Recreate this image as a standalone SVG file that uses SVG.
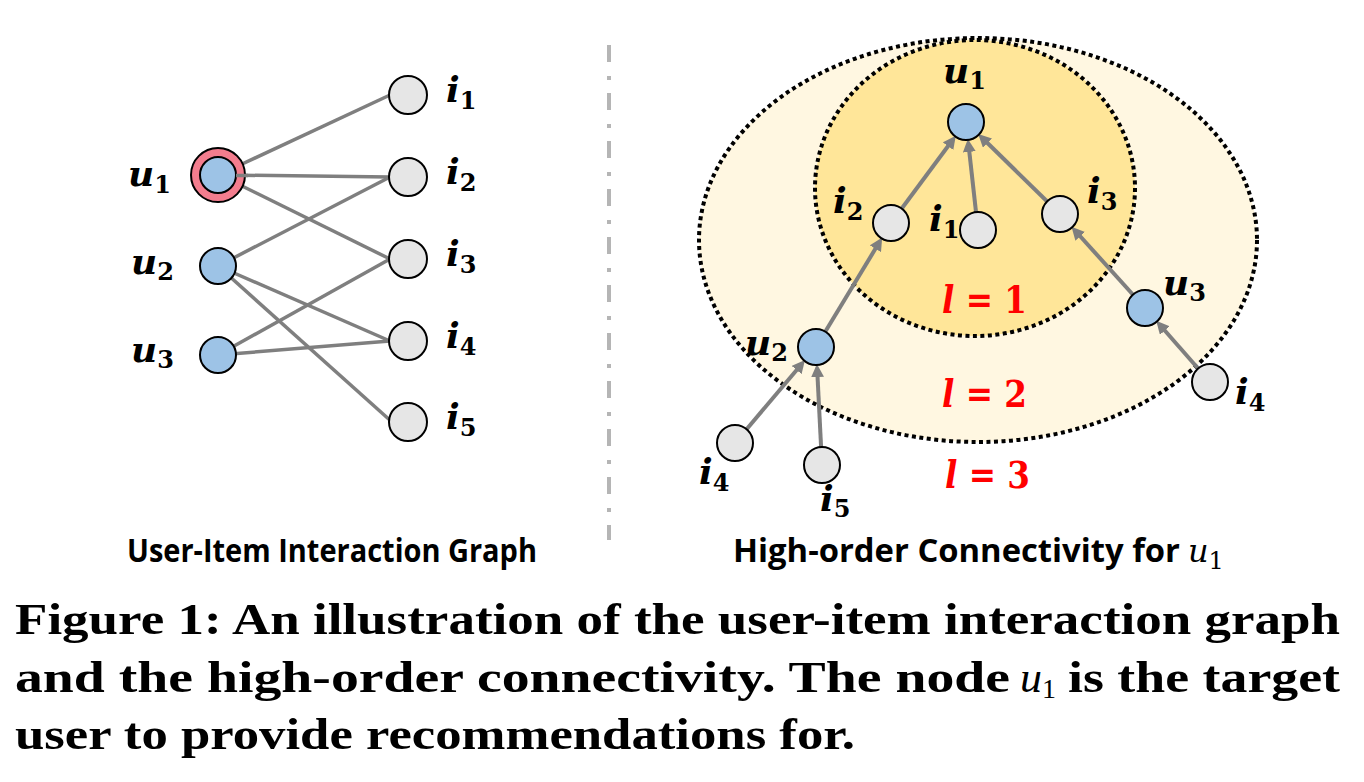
<svg xmlns="http://www.w3.org/2000/svg" width="1364" height="782" viewBox="0 0 1364 782">
<defs>
<style>
.edge{stroke:#7f7f7f;stroke-width:3.5;fill:none}
.arr{stroke:#7f7f7f;stroke-width:4;fill:none;marker-end:url(#ah)}
.un{fill:#9dc3e6;stroke:#000;stroke-width:2}
.it{fill:#e6e6e6;stroke:#000;stroke-width:2}
.m{font-family:"DejaVu Serif",serif;font-weight:bold;font-style:italic;font-size:36px;fill:#000}
.m tspan.s{font-style:normal;font-size:24px}
.lv{font-family:"DejaVu Serif",serif;font-weight:bold;font-size:38px;fill:#ff0000}
.sub{font-family:"Open Sans",sans-serif;font-weight:bold;font-size:32px;fill:#000}
.cap{font-family:"Liberation Serif",serif;font-weight:bold;font-size:45px;fill:#000}
.ring{stroke:#000;stroke-width:4;stroke-dasharray:4 3.5}
</style>
<marker id="ah" viewBox="0 0 12 12" markerUnits="userSpaceOnUse" markerWidth="13" markerHeight="13" refX="1" refY="6" orient="auto">
<path d="M0,0 L12,6 L0,12 z" fill="#7f7f7f"/>
</marker>
</defs>
<rect width="1364" height="782" fill="#fff"/>

<g id="separator">
<line x1="609" y1="45" x2="609" y2="540" stroke="#b5b5b5" stroke-width="4" stroke-dasharray="17 14 4 13"/>
</g>

<g id="layers">
<ellipse class="ring" cx="978" cy="240" rx="279" ry="202" fill="#fff7e1"/>
<ellipse class="ring" cx="975" cy="188" rx="160" ry="148" fill="#ffe699"/>
</g>

<g id="connectors">
<line class="edge" x1="240" y1="165" x2="390" y2="95"/>
<line class="edge" x1="225" y1="175" x2="390" y2="177"/>
<line class="edge" x1="240" y1="185" x2="390" y2="259"/>
<line class="edge" x1="218" y1="266" x2="390" y2="177"/>
<line class="edge" x1="218" y1="266" x2="390" y2="341"/>
<line class="edge" x1="218" y1="266" x2="392" y2="422"/>
<line class="edge" x1="218" y1="355" x2="390" y2="259"/>
<line class="edge" x1="218" y1="355" x2="390" y2="341"/>

<line class="arr" x1="891" y1="223" x2="948.7" y2="145.3"/>
<line class="arr" x1="978" y1="230" x2="969.2" y2="150.8"/>
<line class="arr" x1="1060" y1="214" x2="986.7" y2="142.3"/>
<line class="arr" x1="816" y1="347" x2="876" y2="247.8"/>
<line class="arr" x1="1145" y1="308" x2="1079.5" y2="235.5"/>
<line class="arr" x1="735" y1="443" x2="797.3" y2="369.2"/>
<line class="arr" x1="822" y1="465" x2="817.5" y2="376"/>
<line class="arr" x1="1210" y1="382" x2="1164.1" y2="329.8"/>
</g>

<g id="left-u1">
<circle cx="218" cy="175" r="27" fill="#f37d8e" stroke="#000" stroke-width="2"/>
<circle class="un" cx="218" cy="175" r="18"/>
<line class="edge" x1="236" y1="175.5" x2="248" y2="175.6"/>
<text class="m" x="128" y="186">u<tspan class="s" dy="7">1</tspan></text>
</g>
<g id="left-u2">
<circle class="un" cx="218" cy="266" r="18"/>
<text class="m" x="131" y="274">u<tspan class="s" dy="6">2</tspan></text>
</g>
<g id="left-u3">
<circle class="un" cx="218" cy="355" r="18"/>
<text class="m" x="131" y="362">u<tspan class="s" dy="6">3</tspan></text>
</g>
<g id="left-i1"><circle class="it" cx="408" cy="95" r="19"/><text class="m" x="446" y="102">i<tspan class="s" dy="7">1</tspan></text></g>
<g id="left-i2"><circle class="it" cx="408" cy="177" r="19"/><text class="m" x="446" y="184">i<tspan class="s" dy="7">2</tspan></text></g>
<g id="left-i3"><circle class="it" cx="408" cy="259" r="19"/><text class="m" x="446" y="266">i<tspan class="s" dy="7">3</tspan></text></g>
<g id="left-i4"><circle class="it" cx="408" cy="341" r="19"/><text class="m" x="446" y="348">i<tspan class="s" dy="7">4</tspan></text></g>
<g id="left-i5"><circle class="it" cx="408" cy="422" r="19"/><text class="m" x="446" y="429">i<tspan class="s" dy="7">5</tspan></text></g>

<g id="right-u1"><circle class="un" cx="966" cy="122" r="18"/><text class="m" x="943" y="83">u<tspan class="s" dy="6">1</tspan></text></g>
<g id="right-i2"><circle class="it" cx="891" cy="223" r="18"/><text class="m" x="833" y="213">i<tspan class="s" dy="7">2</tspan></text></g>
<g id="right-i1"><circle class="it" cx="978" cy="230" r="18"/><text class="m" x="929" y="231">i<tspan class="s" dy="7">1</tspan></text></g>
<g id="right-i3"><circle class="it" cx="1060" cy="214" r="18"/><text class="m" x="1087" y="203">i<tspan class="s" dy="7">3</tspan></text></g>
<g id="right-u3"><circle class="un" cx="1145" cy="308" r="18"/><text class="m" x="1163" y="295">u<tspan class="s" dy="6">3</tspan></text></g>
<g id="right-u2"><circle class="un" cx="816" cy="347" r="18"/><text class="m" x="745" y="355">u<tspan class="s" dy="6">2</tspan></text></g>
<g id="right-i4a"><circle class="it" cx="735" cy="443" r="18"/><text class="m" x="699" y="484">i<tspan class="s" dy="7">4</tspan></text></g>
<g id="right-i5"><circle class="it" cx="822" cy="465" r="18"/><text class="m" x="820" y="511">i<tspan class="s" dy="6">5</tspan></text></g>
<g id="right-i4b"><circle class="it" cx="1210" cy="382" r="18"/><text class="m" x="1235" y="404">i<tspan class="s" dy="7">4</tspan></text></g>

<g id="levels">
<text class="lv" x="942" y="313" textLength="85" lengthAdjust="spacingAndGlyphs"><tspan font-style="italic">l</tspan> = 1</text>
<text class="lv" x="942" y="407" textLength="85" lengthAdjust="spacingAndGlyphs"><tspan font-style="italic">l</tspan> = 2</text>
<text class="lv" x="945" y="488" textLength="85" lengthAdjust="spacingAndGlyphs"><tspan font-style="italic">l</tspan> = 3</text>
</g>

<g id="subcaptions">
<text class="sub" x="127" y="562" textLength="410" lengthAdjust="spacingAndGlyphs">User-Item Interaction Graph</text>
<text class="sub" x="733" y="562" textLength="447" lengthAdjust="spacingAndGlyphs">High-order Connectivity for</text>
<text x="1188" y="562" font-family="DejaVu Serif, serif" font-style="italic" font-size="32" fill="#000">u<tspan font-style="normal" font-size="24" dy="7">1</tspan></text>
</g>

<g id="caption">
<text class="cap" x="15" y="634" textLength="1325" lengthAdjust="spacingAndGlyphs">Figure 1: An illustration of the user-item interaction graph</text>
<text class="cap" x="15" y="692" textLength="995" lengthAdjust="spacingAndGlyphs">and the high-order connectivity. The node</text>
<text x="1020" y="692" font-family="Liberation Serif, serif" font-style="italic" font-size="44" fill="#000">u<tspan font-style="normal" font-size="28" dy="6">1</tspan></text>
<text class="cap" x="1068" y="692" textLength="272" lengthAdjust="spacingAndGlyphs">is the target</text>
<text class="cap" x="15" y="749" textLength="840" lengthAdjust="spacingAndGlyphs">user to provide recommendations for.</text>
</g>
</svg>
